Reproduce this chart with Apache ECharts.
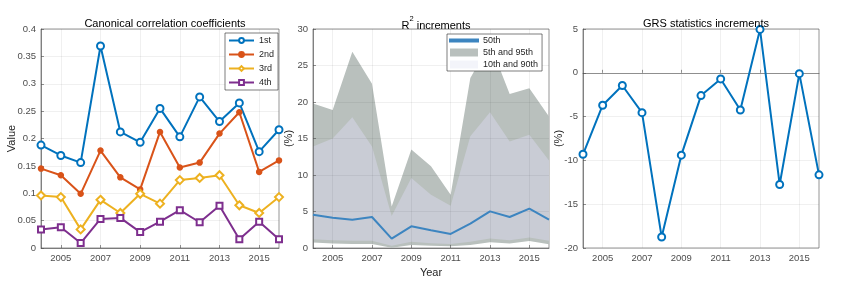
<!DOCTYPE html>
<html><head><meta charset="utf-8">
<script src="https://cdn.jsdelivr.net/npm/echarts@6/dist/echarts.min.js"></script>
<style>html,body{margin:0;padding:0;background:#fff}#c{width:846px;height:283px}</style>
</head><body><div id="c"></div>
<script>
var years = ['2004','2005','2006','2007','2008','2009','2010','2011','2012','2013','2014','2015','2016'];
var cc1 = [0.188,0.169,0.156,0.369,0.212,0.193,0.255,0.203,0.276,0.231,0.265,0.176,0.216];
var cc2 = [0.145,0.133,0.099,0.178,0.129,0.107,0.212,0.147,0.156,0.209,0.248,0.139,0.160];
var cc3 = [0.096,0.093,0.034,0.088,0.064,0.099,0.081,0.124,0.128,0.133,0.078,0.064,0.093];
var cc4 = [0.034,0.038,0.009,0.053,0.055,0.029,0.048,0.069,0.047,0.077,0.016,0.048,0.016];
var r2p50 = [4.57,4.15,3.88,4.25,1.28,2.97,2.42,1.92,3.33,5.02,4.25,5.39,3.88];
var r2p95 = [19.8,18.9,26.9,22.5,5.7,13.5,11.2,7.3,23.3,28.0,21.1,21.9,18.0];
var r2p90 = [13.9,15.0,17.9,13.9,4.4,9.6,7.3,5.8,15.3,18.6,14.6,15.5,12.0];
var r2p10 = [1.2,1.05,1.0,1.0,0.3,0.85,0.65,0.55,0.85,1.3,1.05,1.45,1.0];
var r2p5  = [0.75,0.6,0.55,0.55,0.05,0.4,0.3,0.25,0.4,0.8,0.6,0.95,0.5];
var grs = [-9.3,-3.7,-1.45,-4.55,-18.75,-9.4,-2.6,-0.7,-4.25,4.95,-12.75,-0.1,-11.65];

var FONT = 'Liberation Sans';
var TXT = '#262626';
var TICK = '#4d4d4d';
var C1='#0072BD', C2='#D95319', C3='#EDB120', C4='#7E2F8E';
var GRAY='#b9c0bd', LIGHT='#c9ccd5', MED='#3d85c0';

function diff(a,b){ return a.map(function(v,i){ return +(v-b[i]).toFixed(3); }); }
function odd(i){ return i % 2 === 1; }

function xAx(gi, extra){
  var o = {
    type:'category', gridIndex:gi, data:years, boundaryGap:false,
    axisLine:{show:true, lineStyle:{color:TICK, width:0.6}},
    axisTick:{show:true, inside:true, length:3, interval:function(i){return odd(i);}, lineStyle:{color:TICK,width:0.6}},
    axisLabel:{interval:function(i){return odd(i);}, color:TICK, fontFamily:FONT, fontSize:9.5, margin:5},
    splitLine:{show:true, interval:function(i){return odd(i);}, lineStyle:{color:'rgba(38,38,38,0.12)', width:0.6}}
  };
  for (var k in extra) o[k]=extra[k];
  return o;
}
function yAx(gi, min, max, itv, extra){
  var o = {
    type:'value', gridIndex:gi, min:min, max:max, interval:itv,
    axisLine:{show:true, lineStyle:{color:TICK, width:0.6}},
    axisTick:{show:true, inside:true, length:3, lineStyle:{color:TICK,width:0.6}},
    axisLabel:{color:TICK, fontFamily:FONT, fontSize:9.5, margin:5},
    splitLine:{show:true, lineStyle:{color:'rgba(38,38,38,0.12)', width:0.6}},
    nameLocation:'middle', nameMoveOverlap:false,
    nameTextStyle:{color:TXT, fontFamily:FONT, fontSize:11}
  };
  for (var k in extra) o[k]=extra[k];
  return o;
}
function ln(name, data, color, symbol, size, xi, extra){
  var o = {
    type:'line', name:name, data:data, xAxisIndex:xi, yAxisIndex:xi,
    symbol:symbol, symbolSize:size, showSymbol:true,
    lineStyle:{color:color, width:2},
    itemStyle:{color:color, borderColor:color, borderWidth:1.5},
    emphasis:{disabled:true}, animation:false, z:4
  };
  for (var k in extra) o[k]=extra[k];
  return o;
}

var chart = echarts.init(document.getElementById('c'), null, {renderer:'canvas'});
chart.setOption({
  animation:false,
  textStyle:{fontFamily:FONT},
  title:[
    {text:'Canonical correlation coefficients', left:160, top:13, textAlign:'center',
     textStyle:{fontFamily:FONT, fontSize:11, fontWeight:'normal', color:'#000'}},
    {text:'{a|R}{s|2}{a| increments}', left:431, top:10, textAlign:'center',
     textStyle:{fontWeight:'normal',
       rich:{a:{fontFamily:FONT, fontSize:11, fontWeight:'normal', color:'#000', verticalAlign:'bottom', lineHeight:16},
             s:{fontFamily:FONT, fontSize:7.5, fontWeight:'normal', color:'#000', verticalAlign:'top', lineHeight:16, padding:[0,0,5,0]}}}},
    {text:'GRS statistics increments', left:701, top:13, textAlign:'center',
     textStyle:{fontFamily:FONT, fontSize:11, fontWeight:'normal', color:'#000'}}
  ],
  grid:[
    {left:41, top:29, width:238, height:219, show:true, borderColor:TICK, borderWidth:0.6, backgroundColor:'transparent'},
    {left:313, top:29, width:236, height:219, show:true, borderColor:TICK, borderWidth:0.6, backgroundColor:'transparent'},
    {left:583, top:29, width:236, height:219, show:true, borderColor:TICK, borderWidth:0.6, backgroundColor:'transparent'}
  ],
  xAxis:[
    xAx(0,{}),
    xAx(1,{name:'Year', nameLocation:'middle', nameGap:19, nameMoveOverlap:false, nameTextStyle:{color:TXT, fontFamily:FONT, fontSize:11}, z:3}),
    xAx(2,{})
  ],
  yAxis:[
    yAx(0,0,0.4,0.05,{name:'Value', nameGap:24}),
    yAx(1,0,30,5,{name:'(%)', nameGap:19, z:3}),
    yAx(2,-20,5,5,{name:'(%)', nameGap:19})
  ],
  legend:[
    {orient:'vertical', left:225, top:33, padding:[3,4,3,3], itemGap:5, itemWidth:25, itemHeight:6,
     backgroundColor:'#fff', borderColor:TXT, borderWidth:0.6, borderRadius:0,
     textStyle:{fontFamily:FONT, fontSize:9, color:TXT},
     data:['1st','2nd','3rd','4th'], selectedMode:false},
    {orient:'vertical', left:447, top:34, padding:[2,4,2,2], itemGap:3, itemWidth:28, itemHeight:8,
     backgroundColor:'#fff', borderColor:TXT, borderWidth:0.6, borderRadius:0,
     textStyle:{fontFamily:FONT, fontSize:9, color:TXT},
     data:[{name:'50th', icon:'path://M0,0H28V2.2H0Z', itemStyle:{color:MED}},
           {name:'5th and 95th', icon:'rect', itemStyle:{color:GRAY}},
           {name:'10th and 90th', icon:'rect', itemStyle:{color:'#f3f4fa'}}],
     selectedMode:false}
  ],
  series:[
    ln('1st', cc1, C1, 'emptyCircle', 7, 0),
    ln('2nd', cc2, C2, 'circle', 5, 0),
    ln('3rd', cc3, C3, 'emptyDiamond', 8, 0),
    ln('4th', cc4, C4, 'emptyRect', 6, 0),

    {type:'line', name:'base5', data:r2p5, xAxisIndex:1, yAxisIndex:1, stack:'b95', symbol:'none',
     lineStyle:{opacity:0}, z:1, silent:true},
    {type:'line', name:'5th and 95th', data:diff(r2p95, r2p5), xAxisIndex:1, yAxisIndex:1, stack:'b95', symbol:'none',
     lineStyle:{opacity:0, width:0}, itemStyle:{color:GRAY}, areaStyle:{color:GRAY, opacity:1}, z:1, silent:true},
    {type:'line', name:'base10', data:r2p10, xAxisIndex:1, yAxisIndex:1, stack:'b90', symbol:'none',
     lineStyle:{opacity:0}, z:1, silent:true},
    {type:'line', name:'10th and 90th', data:diff(r2p90, r2p10), xAxisIndex:1, yAxisIndex:1, stack:'b90', symbol:'none',
     lineStyle:{opacity:0, width:0}, itemStyle:{color:LIGHT}, areaStyle:{color:LIGHT, opacity:1}, z:1, silent:true},
    ln('50th', r2p50, MED, 'none', 0, 1, {lineStyle:{color:MED, width:2}}),

    ln('GRS', grs, C1, 'emptyCircle', 7, 2)
  ]
});
</script>
</body></html>
